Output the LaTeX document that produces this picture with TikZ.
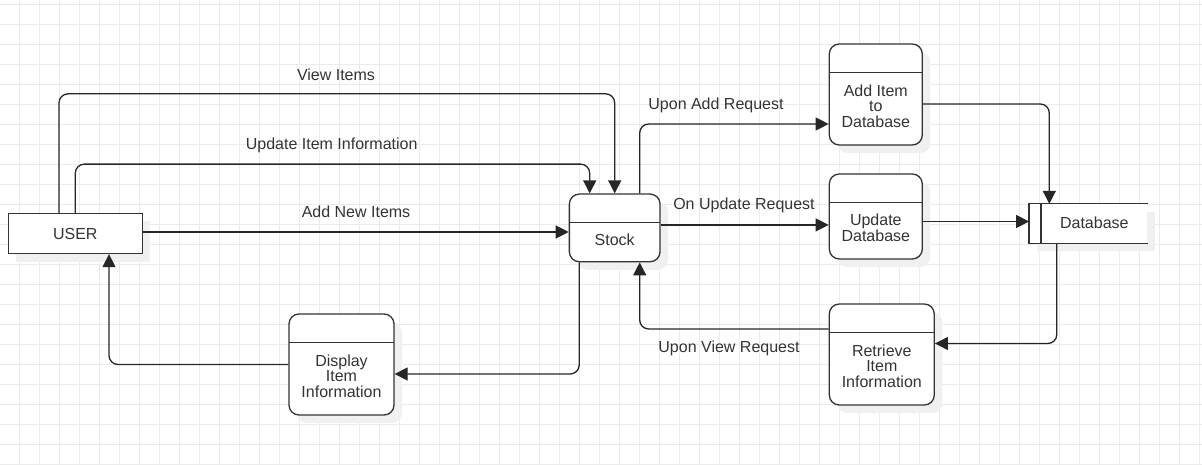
\documentclass[tikz,border=0pt]{standalone}
\usepackage{fontspec}
\setmainfont{Liberation Sans}
\usetikzlibrary{arrows.meta}
\usetikzlibrary{shadows}

\begin{document}
\begin{tikzpicture}[x=1pt,y=-1pt,
    font=\fontsize{16}{15.5}\selectfont,
    gridline/.style={black!8,line width=0.8pt},
    boxshadow/.style={drop shadow={shadow xshift=8pt,shadow yshift=-8pt,fill=black!6,opacity=1}},
    entity/.style={draw=black!80,line width=1.3pt,fill=white,boxshadow,text=black!80},
    proc/.style={draw=black!80,line width=1.3pt,fill=white,rounded corners=10pt,boxshadow,
      path picture={\draw[black!80,line width=1.3pt] ([yshift=-28.5pt]path picture bounding box.north west) -- ([yshift=-28.5pt]path picture bounding box.north east);}},
    txt/.style={text=black!80,align=center,inner sep=0pt},
    lbl/.style={text=black!80,anchor=base,inner sep=0pt},
    flow/.style={draw=black!85,line width=1.3pt,rounded corners=9pt,-{Triangle[length=13pt,width=13pt]}}]
  \useasboundingbox (0,0) rectangle (1202,465);
  % background grid
  \foreach \gx in {0,...,59} \draw[gridline] (19.3+20*\gx,0) -- (19.3+20*\gx,465);
  \foreach \gy in {0,...,23} \draw[gridline] (0,4.7+20*\gy) -- (1202,4.7+20*\gy);

  % external entity and processes
  \node[entity,minimum width=134pt,minimum height=40pt] (user) at (75.3,233.5) {USER};
  \node[proc,minimum width=90.7pt,minimum height=67.7pt] (stock) at (614.7,227.9) {};
  \node[txt] (stocktxt) at ([yshift=-11.8pt]stock.center) {Stock};
  \node[proc,minimum width=93pt,minimum height=101pt] (add) at (875.8,94.5) {};
  \node[txt] (addtxt) at ([yshift=-11.5pt]add.center) {Add Item\\to\\Database};
  \node[proc,minimum width=93pt,minimum height=85pt] (upd) at (875.8,216.5) {};
  \node[txt] (updtxt) at ([yshift=-11.5pt]upd.center) {Update\\Database};
  \node[proc,minimum width=105pt,minimum height=101pt] (ret) at (881.8,354.5) {};
  \node[txt] (rettxt) at ([yshift=-11.5pt]ret.center) {Retrieve\\Item\\Information};
  \node[proc,minimum width=105pt,minimum height=101pt] (disp) at (341.5,364.5) {};
  \node[txt] (disptxt) at ([yshift=-11.5pt]disp.center) {Display\\Item\\Information};

  % data store
  \node[fill=white,boxshadow,minimum width=118pt,minimum height=39.3pt,inner sep=0pt] (db) at (1088.3,223.7) {};
  \draw[black!80,line width=1.3pt] (db.north east) -- (db.north west) -- (db.south west) -- (db.south east);
  \draw[black!80,line width=1.3pt] ([xshift=12pt]db.north west) -- ([xshift=12pt]db.south west);
  \node[txt] (dbtxt) at ([xshift=6pt,yshift=1pt]db.center) {Database};

  % data flows
  \draw[flow] ([xshift=-16.3pt]user.north) -- ++(0,-119) -| (stock.north);
  \draw[flow] (user.north) -- ++(0,-48.7) -| ([xshift=-25pt]stock.north);
  \draw[flow] ([yshift=1.5pt]user.east) -- ([yshift=1.5pt]user.east -| stock.west);
  \draw[flow] ([xshift=25pt]stock.north) |- ([yshift=-29.5pt]add.west);
  \draw[flow] ([yshift=3pt]stock.east) -- ([yshift=3pt]stock.east -| upd.west);
  \draw[flow] ([yshift=-9.5pt]add.east) -| ([xshift=-39pt]db.north);
  \draw[flow] ([yshift=-5pt]upd.east) -- ([yshift=-5pt]upd.east -| db.west);
  \draw[flow] ([xshift=-31.5pt]db.south) |- ([yshift=11pt]ret.east);
  \draw[flow] ([yshift=25.5pt]ret.west) -| ([xshift=25pt]stock.south);
  \draw[flow] ([xshift=-35.5pt]stock.south) |- ([yshift=-9.5pt]disp.east);
  \draw[flow] (disp.west) -| ([xshift=33.7pt]user.south);

  % flow labels
  \node[lbl] (viewlbl) at (336,80.3) {View Items};
  \node[lbl] (updlbl) at (331.7,150) {Update Item Information};
  \node[lbl] (newlbl) at (356,217.7) {Add New Items};
  \node[lbl] (addlbl) at (716,110) {Upon Add Request};
  \node[lbl] (onupdlbl) at (744,210) {On Update Request};
  \node[lbl] (viewreqlbl) at (729,352.7) {Upon View Request};
\end{tikzpicture}
\end{document}
